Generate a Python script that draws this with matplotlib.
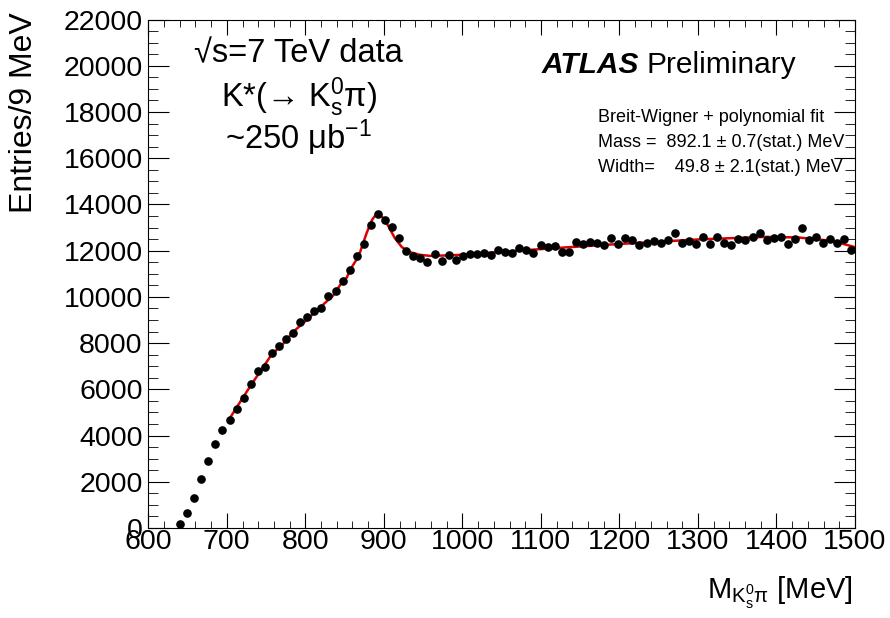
import matplotlib
matplotlib.use("Agg")
import matplotlib.pyplot as plt
import numpy as np

plt.rcParams['font.family'] = ['Liberation Sans', 'DejaVu Sans']
plt.rcParams['mathtext.default'] = 'regular'

# K*(892) -> K0s pi invariant mass, 9 MeV bins from 636 to 1500 MeV
bin_lo = 636
bin_w = 9
counts = [160, 666, 1316, 2121, 2900, 3623, 4260, 4693, 5169, 5628,
          6221, 6814, 6970, 7563, 7896, 8169, 8459, 8935, 9134, 9411,
          9524, 10017, 10260, 10693, 11156, 11775, 12294, 13104, 13567, 13307,
          13017, 12554, 11965, 11762, 11688, 11489, 11870, 11545, 11792, 11589,
          11775, 11848, 11861, 11905, 11833, 12007, 11948, 11919, 12108, 12035,
          11919, 12224, 12165, 12195, 11933, 11962, 12368, 12294, 12382, 12338,
          12224, 12554, 12280, 12527, 12440, 12251, 12353, 12397, 12353, 12468,
          12743, 12338, 12410, 12309, 12570, 12309, 12584, 12338, 12224, 12483,
          12454, 12570, 12771, 12454, 12527, 12570, 12280, 12497, 12974, 12468,
          12570, 12353, 12497, 12324, 12512, 12050]

# fit curve (Breit-Wigner + polynomial)
fit_x = [703, 715, 730, 745, 757, 772, 785, 800, 815, 836, 844, 853, 857,
         864, 870, 878, 885, 889, 894, 899.5, 906, 914, 923, 933.5, 946,
         959, 976, 997, 1050, 1130, 1200, 1300, 1386, 1428, 1471, 1500]
fit_y = [4705, 5350, 6140, 6900, 7500, 7980, 8500, 8950, 9424, 10080, 10500,
         10850, 11169, 11550, 11961, 12757, 13333, 13521, 13560, 13405, 13045,
         12540, 12150, 11933, 11818, 11775, 11790, 11818, 11950, 12138, 12290,
         12485, 12597, 12570, 12424, 12150]

x = bin_lo + bin_w * (np.arange(len(counts)) + 0.5)

fig = plt.figure(figsize=(8.9, 6.18), dpi=100)
ax = fig.add_axes([0.1666, 0.1456, 0.7941, 0.8228])

ax.plot(fit_x, fit_y, color='#dd0000', lw=1.8, zorder=2)
ax.plot(x, counts, 'o', color='black', ms=5.2, zorder=3)

ax.set_xlim(600, 1500)
ax.set_ylim(0, 22000)
ax.set_xticks(np.arange(600, 1501, 100))
ax.set_xticks(np.arange(600, 1501, 20), minor=True)
ax.set_yticks(np.arange(0, 22001, 2000))
ax.set_yticks(np.arange(0, 22001, 500), minor=True)

ax.tick_params(which='both', direction='in', top=True, right=True, labelsize=20.5)
ax.tick_params(axis='x', which='major', length=10.5, pad=1)
ax.tick_params(axis='x', which='minor', length=5.3)
ax.tick_params(axis='y', which='major', length=15, pad=4)
ax.tick_params(axis='y', which='minor', length=7.5)

fig.text(24 / 890, 1 - 12 / 618, 'Entries/9 MeV', rotation=90,
         ha='center', va='top', fontsize=23)
fig.text(853 / 890, 1 - 593 / 618, r'M$_{K_{s}^{0}\pi}$ [MeV]',
         ha='right', va='center', fontsize=21)

ax.text(0.213, 0.932, '√s=7 TeV data', transform=ax.transAxes,
        ha='center', va='center', fontsize=23.5)
ax.text(0.213, 0.848, r'K*(→ K$_{s}^{0}$π)', transform=ax.transAxes,
        ha='center', va='center', fontsize=23.5)
ax.text(0.213, 0.767, r'~250 μb$^{-1}$', transform=ax.transAxes,
        ha='center', va='center', fontsize=23.5)

ax.text(0.556, 0.91, 'ATLAS', transform=ax.transAxes, ha='left', va='center',
        fontsize=21.5, fontweight='bold', fontstyle='italic')
ax.text(0.705, 0.91, 'Preliminary', transform=ax.transAxes, ha='left',
        va='center', fontsize=21.5)

ax.text(0.636, 0.807, 'Breit-Wigner + polynomial fit', transform=ax.transAxes,
        ha='left', va='center', fontsize=13)
ax.text(0.636, 0.758, 'Mass =  892.1 ± 0.7(stat.) MeV', transform=ax.transAxes,
        ha='left', va='center', fontsize=13)
ax.text(0.636, 0.709, 'Width=    49.8 ± 2.1(stat.) MeV', transform=ax.transAxes,
        ha='left', va='center', fontsize=13)

fig.savefig('out.png', dpi=100)
